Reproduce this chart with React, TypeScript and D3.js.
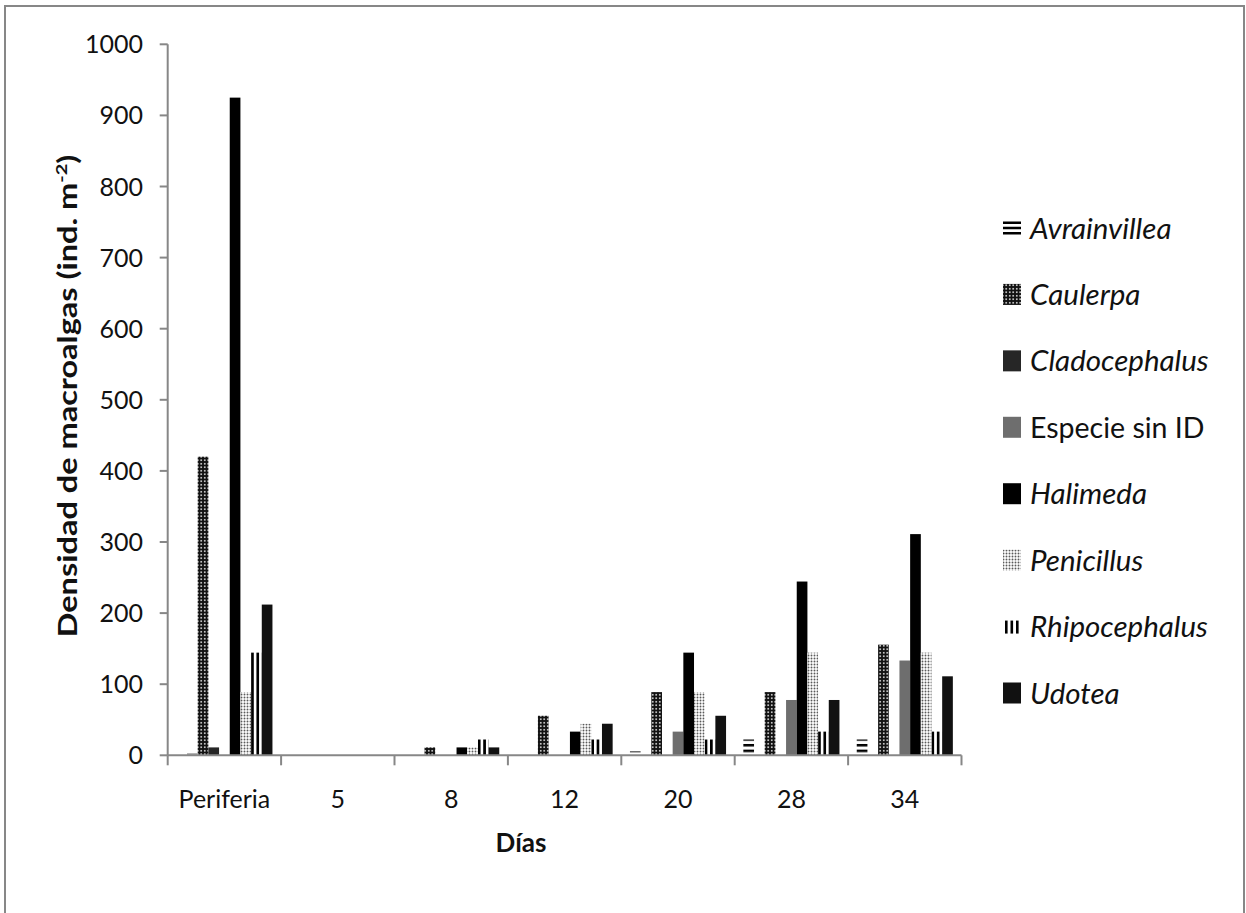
import React from "react";
import * as d3 from "d3";

const categories = ["Periferia", "5", "8", "12", "20", "28", "34"];
const avrainvillea = [0, 0, 0, 0, 5.6, 22.2, 22.2];
const sinNombre = [3, 0, 0, 0, 0, 0, 0];
const caulerpa = [420, 0, 11.1, 55.6, 88.9, 88.9, 155.6];
const cladocephalus = [11.1, 0, 0, 0, 0, 0, 0];
const especieSinID = [0, 0, 0, 0, 33.3, 77.8, 133.3];
const halimeda = [925, 0, 11.1, 33.3, 144.4, 244.4, 311.1];
const penicillus = [88.9, 0, 11.1, 44.4, 88.9, 144.4, 144.4];
const rhipocephalus = [144.4, 0, 22.2, 22.2, 22.2, 33.3, 33.3];
const udotea = [212, 0, 11.1, 44.4, 55.6, 77.8, 111.1];
const yTicks = [0, 100, 200, 300, 400, 500, 600, 700, 800, 900, 1000];

type Series = { key: string; label: string; values: number[]; fill: string; italic: boolean; legend: boolean; swatch: string };

const series: Series[] = [
  { key: "avr", label: "Avrainvillea", values: avrainvillea, fill: "url(#pAvr)", italic: true, legend: true, swatch: "hlines" },
  { key: "sin", label: "", values: sinNombre, fill: "#a6a6a6", italic: false, legend: false, swatch: "" },
  { key: "cau", label: "Caulerpa", values: caulerpa, fill: "url(#pCau)", italic: true, legend: true, swatch: "rect" },
  { key: "cla", label: "Cladocephalus", values: cladocephalus, fill: "#262626", italic: true, legend: true, swatch: "rect" },
  { key: "esp", label: "Especie sin ID", values: especieSinID, fill: "#6e6e6e", italic: false, legend: true, swatch: "rect" },
  { key: "hal", label: "Halimeda", values: halimeda, fill: "#000000", italic: true, legend: true, swatch: "rect" },
  { key: "pen", label: "Penicillus", values: penicillus, fill: "url(#pPen)", italic: true, legend: true, swatch: "rect" },
  { key: "rhi", label: "Rhipocephalus", values: rhipocephalus, fill: "url(#pRhi)", italic: true, legend: true, swatch: "vlines" },
  { key: "udo", label: "Udotea", values: udotea, fill: "#111111", italic: true, legend: true, swatch: "rect" },
];

const FONT = "Lato, 'Open Sans', sans-serif";
const AXIS = "#878787";

export default function App() {
  const x0 = 167.7, x1 = 961.5, yTop = 44.3, yBase = 755.3;
  const xGroup = d3.scaleBand<string>().domain(categories).range([x0, x1]).paddingInner(0).paddingOuter(0);
  const xInner = d3.scaleBand<string>().domain(series.map((s) => s.key)).range([0, xGroup.bandwidth()]).paddingInner(0).paddingOuter(0.81);
  const y = d3.scaleLinear().domain([0, 1000]).range([yBase, yTop]);
  const bw = xInner.bandwidth();

  const legendItems = series.filter((s) => s.legend);
  const legendY = d3.scalePoint<string>().domain(legendItems.map((s) => s.key)).range([228, 693]);

  return (
    <svg width={1246} height={913} style={{ position: "absolute", left: 0, top: 0, background: "#fff" }} fontFamily={FONT}>
      <defs>
        <pattern id="pAvr" patternUnits="userSpaceOnUse" x={0} y={yBase} width={8} height={5.67}>
          <rect width={8} height={5.67} fill="#fff" />
          <rect width={8} height={2.5} fill="#000" />
        </pattern>
        <pattern id="pCau" patternUnits="userSpaceOnUse" width={3.5} height={3.5}>
          <rect width={3.5} height={3.5} fill="#111" />
          <circle cx={1.75} cy={1.75} r={0.85} fill="#fff" />
        </pattern>
        <pattern id="pPen" patternUnits="userSpaceOnUse" width={3} height={3}>
          <rect width={3} height={3} fill="#fff" />
          <circle cx={1.5} cy={1.5} r={0.95} fill="#5a5a5a" />
        </pattern>
        <pattern id="pRhi" patternUnits="objectBoundingBox" patternContentUnits="objectBoundingBox" width={0.5} height={1}>
          <rect width={0.5} height={1} fill="#fff" />
          <rect width={0.25} height={1} fill="#000" />
        </pattern>
      </defs>

      <rect x={5} y={6} width={1239} height={930} fill="#fff" stroke={AXIS} strokeWidth={2} />

      {/* bars */}
      {series.map((s) => (
        <g key={s.key}>
          {s.values.map((v, i) =>
            v > 0 ? (
              <rect
                key={i}
                x={(xGroup(categories[i]) as number) + (xInner(s.key) as number)}
                y={y(v)}
                width={bw}
                height={yBase - y(v)}
                fill={s.fill}
              />
            ) : null
          )}
        </g>
      ))}

      {/* y axis */}
      <line x1={x0} x2={x0} y1={yTop} y2={yBase} stroke={AXIS} strokeWidth={2} />
      {yTicks.map((t) => (
        <g key={t}>
          <line x1={x0 - 8} x2={x0} y1={y(t)} y2={y(t)} stroke={AXIS} strokeWidth={2} />
          <text x={143} y={y(t) + 9} textAnchor="end" fontSize={25} fill="#111">{t}</text>
        </g>
      ))}

      {/* x axis */}
      <line x1={x0} x2={x1} y1={yBase} y2={yBase} stroke={AXIS} strokeWidth={2} />
      {[...categories.map((c) => xGroup(c) as number), x1].map((xx, i) => (
        <line key={i} x1={xx} x2={xx} y1={yBase} y2={yBase + 10} stroke={AXIS} strokeWidth={2} />
      ))}
      {categories.map((c) => (
        <text key={c} x={(xGroup(c) as number) + xGroup.bandwidth() / 2} y={808} textAnchor="middle" fontSize={25} fill="#111">{c}</text>
      ))}

      <text x={521} y={852} textAnchor="middle" fontSize={26} fontWeight="bold" fill="#111">Días</text>

      <text transform="translate(76.7,396) rotate(-90) scale(1.25,1)" textAnchor="middle" fontSize={26} fontWeight="bold" fill="#111">
        Densidad de macroalgas (ind. m<tspan fontSize={16} dy={-10}>-2</tspan><tspan dy={10}>)</tspan>
      </text>

      {/* legend */}
      {legendItems.map((s) => {
        const cy = legendY(s.key) as number;
        const mx = 1003, mw = 18, mh = 21;
        let sw: React.ReactNode;
        if (s.swatch === "hlines") {
          sw = [-6.5, -1.25, 4].map((o, k) => <rect key={k} x={mx} y={cy + o} width={mw} height={2.5} fill="#000" />);
        } else if (s.swatch === "vlines") {
          sw = [2, 7.5, 13].map((o, k) => <rect key={k} x={mx + o} y={cy - 6} width={2.6} height={13} fill="#000" />);
        } else {
          sw = <rect x={mx} y={cy - mh / 2} width={mw} height={mh} fill={s.fill} />;
        }
        return (
          <g key={s.key}>
            {sw}
            <text x={1030} y={cy + 10.5} fontSize={s.italic ? 29.5 : 28.5} fontStyle={s.italic ? "italic" : "normal"} fill="#111">{s.label}</text>
          </g>
        );
      })}
    </svg>
  );
}
